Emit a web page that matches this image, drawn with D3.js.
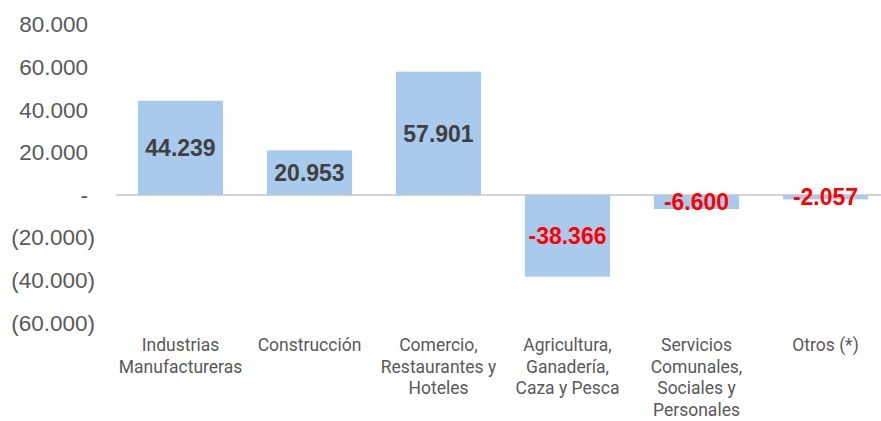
<!DOCTYPE html>
<html>
<head>
<meta charset="utf-8">
<script src="https://cdn.jsdelivr.net/npm/d3@7"></script>
<style>
  body { margin: 0; background: #fff; }
  svg { display: block; }
</style>
</head>
<body>
<div id="chart"></div>
<script>
// datos
const categories = [
  "Industrias\nManufactureras",
  "Construcción",
  "Comercio,\nRestaurantes y\nHoteles",
  "Agricultura,\nGanadería,\nCaza y Pesca",
  "Servicios\nComunales,\nSociales y\nPersonales",
  "Otros (*)"
];
const values = [44239, 20953, 57901, -38366, -6600, -2057];
const yTicks = [80000, 60000, 40000, 20000, 0, -20000, -40000, -60000];

const W = 881, H = 421;
const fmt = d3.formatLocale({ decimal: ",", thousands: ".", grouping: [3], currency: ["", ""] }).format(",d");

const svg = d3.select("#chart")
  .append("svg")
  .attr("width", W)
  .attr("height", H);

const x = d3.scaleBand()
  .domain(categories)
  .range([116, 890])
  .paddingInner(0.34)
  .paddingOuter(0.17);

const y = d3.scaleLinear()
  .domain([-60000, 80000])
  .range([322.8, 24.6]);

// eje y con formato contable
const yAxis = svg.append("g")
  .attr("transform", "translate(88,0)")
  .call(d3.axisLeft(y)
    .tickValues(yTicks)
    .tickSize(0)
    .tickPadding(0)
    .tickFormat(d => d === 0 ? "-" : d < 0 ? `(${fmt(-d)})` : fmt(d)));

yAxis.select(".domain").remove();
yAxis.selectAll("text")
  .attr("x", d => d < 0 ? 7 : 0)
  .style("font-family", "'Liberation Sans', Arial, sans-serif")
  .style("font-size", "22.5px")
  .attr("fill", "#595959");

// barras
svg.append("g")
  .selectAll("rect")
  .data(values)
  .join("rect")
  .attr("x", (d, i) => x(categories[i]))
  .attr("y", d => y(Math.max(0, d)))
  .attr("width", x.bandwidth())
  .attr("height", d => Math.abs(y(d) - y(0)))
  .attr("fill", "#a7caed");

// línea cero
svg.append("line")
  .attr("x1", 116)
  .attr("x2", 890)
  .attr("y1", y(0))
  .attr("y2", y(0))
  .attr("stroke", "#c6c6c6")
  .attr("stroke-width", 1.6);

// etiquetas de valor
svg.append("g")
  .selectAll("text")
  .data(values)
  .join("text")
  .attr("x", (d, i) => x(categories[i]) + x.bandwidth() / 2)
  .attr("y", d => (y(d) + y(0)) / 2)
  .attr("dy", "0.36em")
  .attr("text-anchor", "middle")
  .style("font-family", "'Liberation Sans', Arial, sans-serif")
  .style("font-size", "23px")
  .style("font-weight", "bold")
  .attr("fill", d => d < 0 ? "#ff0000" : "#404040")
  .text(d => d < 0 ? "-" + fmt(-d) : fmt(d));

// etiquetas de categoría
const catLabels = svg.append("g")
  .selectAll("text")
  .data(categories)
  .join("text")
  .attr("x", d => x(d) + x.bandwidth() / 2)
  .attr("y", 351)
  .attr("text-anchor", "middle")
  .style("font-family", "Roboto, sans-serif")
  .style("font-size", "17.5px")
  .attr("fill", "#595959");

catLabels.selectAll("tspan")
  .data(d => d.split("\n"))
  .join("tspan")
  .attr("x", function () { return d3.select(this.parentNode).attr("x"); })
  .attr("dy", (d, i) => i === 0 ? 0 : 21.6)
  .text(d => d);
</script>
</body>
</html>
